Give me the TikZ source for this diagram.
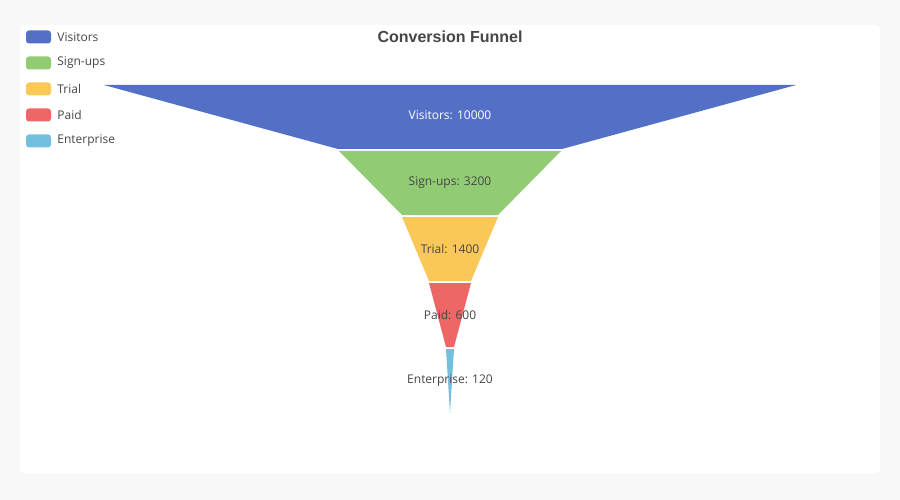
\documentclass[tikz,border=0pt]{standalone}
\usepackage{fontspec}
\usetikzlibrary{positioning}
\setmainfont{Liberation Sans}
\newfontfamily\labelfont{Open Sans}
\definecolor{cVisitors}{HTML}{5470C6}
\definecolor{cSignups}{HTML}{91CC75}
\definecolor{cTrial}{HTML}{FAC858}
\definecolor{cPaid}{HTML}{EE6666}
\definecolor{cEnterprise}{HTML}{73C0DE}
\definecolor{pagegray}{HTML}{F8F8F8}
\definecolor{textgray}{HTML}{464646}
\tikzset{
	segment/.style={draw=white, line width=1pt},
	seglabel/.style={font=\labelfont\fontsize{12}{14}\selectfont, text=textgray, inner sep=0pt},
	legendkey/.style={rounded corners=3pt, minimum width=25pt, minimum height=13pt, inner sep=0pt},
	legendtext/.style={font=\labelfont\fontsize{12}{14}\selectfont, text=textgray, anchor=west, inner sep=0pt}
}
\begin{document}
\begin{tikzpicture}[x=1pt,y=-1pt]
		%Background and panel
		\fill[pagegray] (0,0) rectangle (900,500);
		\useasboundingbox (0,0) rectangle (900,500);
		\fill[white, rounded corners=6pt] (20,25) rectangle (880,474);
		%Title
		\node [font=\bfseries\fontsize{16}{18}\selectfont, text=textgray] (title) at (450,37) {Conversion Funnel};
		%Funnel segments, top width 692 for 10000
		\fill[cVisitors] (104,85) -- (796,85) -- (562,149) -- (338,149) -- cycle;
		\fill[cSignups] (339,151) -- (561,151) -- (498,215) -- (402,215) -- cycle;
		\fill[cTrial] (402,217) -- (498,217) -- (471,281) -- (429,281) -- cycle;
		\fill[cPaid] (429,283) -- (471,283) -- (454,347) -- (446,347) -- cycle;
		\fill[cEnterprise] (446,349) -- (454,349) -- (450,413) -- cycle;
		%Labels in the segments
		\node [seglabel, text=white] (lVisitors) at (450,115) {Visitors: 10000};
		\node [seglabel] (lSignups) at (450,183) {Sign-ups: 3200};
		\node [seglabel] (lTrial) at (450,249) {Trial: 1400};
		\node [seglabel] (lPaid) at (450,315) {Paid: 600};
		\node [seglabel] (lEnterprise) at (450,381) {Enterprise: 120};
		%Legend
		\foreach \name/\col [count=\i from 0] in {Visitors/cVisitors, Sign-ups/cSignups, Trial/cTrial, Paid/cPaid, Enterprise/cEnterprise} {
			\node [legendkey, fill=\col] (key\i) at (38.5,37+26*\i) {};
			\node [legendtext, right=6pt of key\i] (legend\i) {\name};
		}
		\end{tikzpicture}
\end{document}
